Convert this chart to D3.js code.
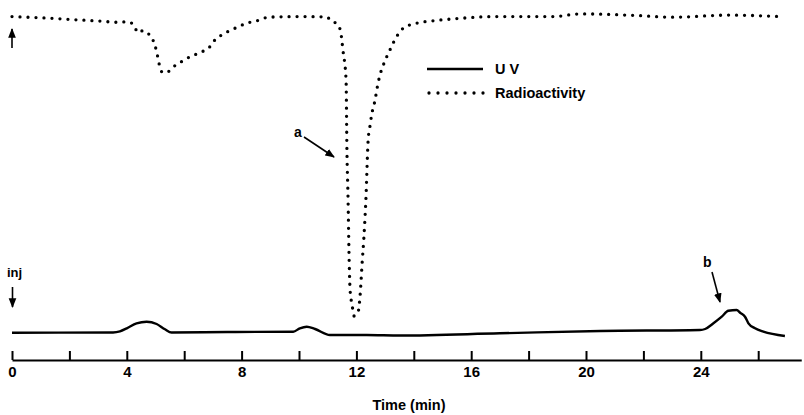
<!DOCTYPE html>
<html>
<head>
<meta charset="utf-8">
<script src="https://cdn.jsdelivr.net/npm/d3@7"></script>
<style>
  body { margin: 0; background: #fff; }
  svg { display: block; font-family: "Liberation Sans", Arial, sans-serif; font-weight: bold; }
</style>
</head>
<body>
<div id="chart"></div>
<script>
// time (min) and trace values
const uvTime = [0, 3.52, 3.76, 4.0, 4.34, 4.69, 5.04, 5.33, 5.56, 7.5, 9.8, 10.03, 10.27, 10.56, 11.08, 12.36, 13.52, 17.0, 20.5, 23.97, 24.15, 24.44, 24.73, 24.96, 25.25, 25.37, 25.54, 25.66, 25.89, 26.18, 26.93];
const uvValue = [3.3, 3.5, 4.6, 7.7, 12.7, 14.3, 12, 6.7, 3.5, 4, 4.3, 7.7, 9.3, 7, 1, 1, 0.5, 2.7, 5, 6, 7, 12.7, 19.3, 25.3, 26, 23.3, 19.3, 12.7, 7.7, 4.3, 0];

// radioactivity trace, expressed as downward deflection (% of full scale)
const radTime = [0, 1.43, 2.3, 3.07, 3.69, 4.04, 4.17, 4.29, 4.39, 4.56, 4.74, 4.91, 5.04, 5.12, 5.22, 5.39, 5.56, 5.91, 6.2, 6.55, 6.9, 7.07, 7.31, 7.7, 8.18, 8.64, 8.92, 10.03, 10.98, 11.08, 11.36, 11.46, 11.53, 11.64, 11.67, 11.71, 11.74, 11.78, 11.85, 11.92, 12.0, 12.06, 12.13, 12.2, 12.26, 12.33, 12.41, 12.47, 12.53, 12.65, 12.73, 12.82, 12.94, 13.17, 13.4, 13.63, 14.1, 14.68, 15.6, 16.77, 18.85, 19.8, 21.9, 23.0, 25.0, 26.76];
const radValue = [0.2, 0.8, 1.3, 1.7, 2.1, 1.9, 2.4, 4, 5.6, 4.9, 5.8, 8, 11.9, 15.7, 18.6, 18.9, 17.4, 15.2, 13.6, 12.2, 10.2, 8, 6.3, 4.4, 2.4, 1.3, 0.4, 0.2, 0.3, 1.3, 3, 5.7, 11.3, 21.3, 44.7, 61.3, 78, 91.3, 96.3, 100, 99.5, 98.7, 93, 82.3, 74, 61.3, 41.3, 36.9, 33, 28, 23.6, 19.7, 16.3, 11.3, 6.9, 4.1, 2.4, 1.6, 0.8, 0.2, 0.2, -0.7, -0.1, 0.4, -0.3, 0.2];

const tickTimes = d3.range(0, 27, 2);
const labelTimes = [0, 4, 8, 12, 16, 20, 24];

const width = 804, height = 415;

const svg = d3.select("#chart").append("svg")
    .attr("width", width)
    .attr("height", height);

const x = d3.scaleLinear().domain([0, 27.5]).range([12, 12 + 27.5 * 28.7]);
const yUV = d3.scaleLinear().domain([0, 100]).range([336, 236]);
const yRad = d3.scaleLinear().domain([0, 100]).range([16, 316]);

const uv = uvTime.map((t, i) => ({ t: t, v: uvValue[i] }));
const rad = radTime.map((t, i) => ({ t: t, v: radValue[i] }));

// time axis, ticks point up
const xAxis = d3.axisBottom(x)
    .tickValues(tickTimes)
    .tickSizeInner(-9)
    .tickSizeOuter(0)
    .tickPadding(6)
    .tickFormat(d => labelTimes.includes(d) ? d : "");

const gx = svg.append("g")
    .attr("transform", "translate(0,360)")
    .call(xAxis);
gx.select(".domain").attr("stroke", "#000").attr("stroke-width", 2);
gx.selectAll(".tick line").attr("stroke", "#000").attr("stroke-width", 2);
gx.selectAll(".tick text")
    .attr("fill", "#000")
    .style("font-size", "15px")
    .style("font-weight", "bold")
    .style("font-family", "'Liberation Sans', Arial, sans-serif");

svg.append("text")
    .attr("x", 409)
    .attr("y", 410)
    .attr("text-anchor", "middle")
    .style("font-size", "14.5px")
    .text("Time (min)");

const line = d3.line().curve(d3.curveMonotoneX);

svg.append("path")
    .attr("d", line.x(d => x(d.t)).y(d => yUV(d.v))(uv))
    .attr("fill", "none")
    .attr("stroke", "#000")
    .attr("stroke-width", 2.4);

svg.append("path")
    .attr("d", line.x(d => x(d.t)).y(d => yRad(d.v))(rad))
    .attr("fill", "none")
    .attr("stroke", "#000")
    .attr("stroke-width", 3.3)
    .attr("stroke-linecap", "round")
    .attr("stroke-dasharray", "0 8");

// arrow marker
svg.append("defs").append("marker")
    .attr("id", "head")
    .attr("viewBox", "0 0 10 10")
    .attr("refX", 9).attr("refY", 5)
    .attr("markerWidth", 6).attr("markerHeight", 6)
    .attr("markerUnits", "strokeWidth")
    .attr("orient", "auto")
  .append("path")
    .attr("d", "M0,1 L10,5 L0,9 Z")
    .attr("fill", "#000");

function arrow(x1, y1, x2, y2, w) {
    svg.append("line")
        .attr("x1", x1).attr("y1", y1)
        .attr("x2", x2).attr("y2", y2)
        .attr("stroke", "#000")
        .attr("stroke-width", w || 1.5)
        .attr("marker-end", "url(#head)");
}

// start marker at top left, injection marker below
arrow(12, 48, 12, 29, 1.6);
svg.append("text").attr("x", 7).attr("y", 277).style("font-size", "13px").text("inj");
arrow(12.5, 287, 12.5, 307, 1.6);

// peak annotations
svg.append("text").attr("x", 294).attr("y", 137).style("font-size", "14px").text("a");
arrow(304, 137, 334, 157, 1.6);
svg.append("text").attr("x", 703).attr("y", 267).style("font-size", "14px").text("b");
arrow(712, 272, 720, 302, 1.6);

// legend
svg.append("line")
    .attr("x1", 427).attr("x2", 483)
    .attr("y1", 69).attr("y2", 69)
    .attr("stroke", "#000").attr("stroke-width", 2.4);
svg.append("text").attr("x", 495).attr("y", 74).style("font-size", "14.5px").text("U V");
svg.append("line")
    .attr("x1", 429).attr("x2", 485)
    .attr("y1", 93).attr("y2", 93)
    .attr("stroke", "#000").attr("stroke-width", 3.3)
    .attr("stroke-linecap", "round")
    .attr("stroke-dasharray", "0 9");
svg.append("text").attr("x", 495).attr("y", 98).style("font-size", "14.5px").text("Radioactivity");
</script>
</body>
</html>
